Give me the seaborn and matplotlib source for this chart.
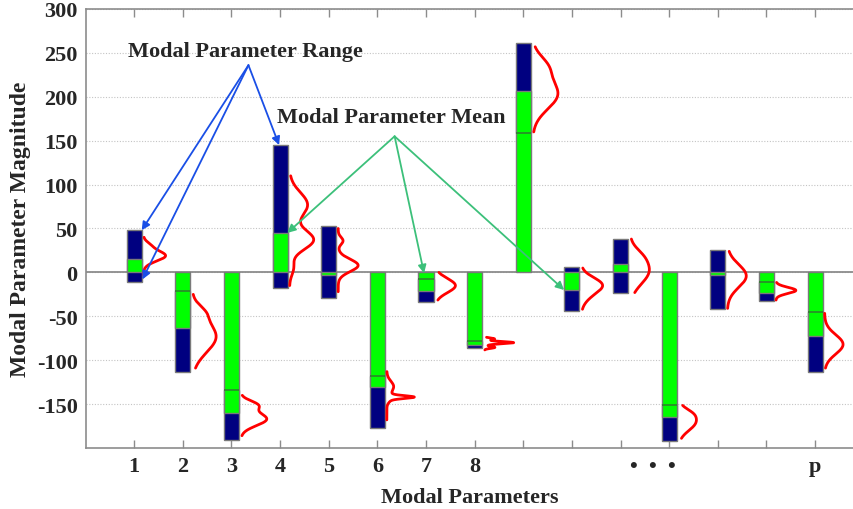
import numpy as np
import pandas as pd
import matplotlib
matplotlib.use("Agg")
import matplotlib.pyplot as plt
import seaborn as sns

# ---- data -------------------------------------------------------------
params = list(range(1, 16))
tick_labels = ["1", "2", "3", "4", "5", "6", "7", "8", "", "", "", "", "", "", "p"]

range_low = [-11, -114, -191, -18, -29, -177, -34, -86, 159, -44, -24, -192, -42, -33, -113]
range_high = [48, -21, -134, 145, 53, -118, -8, -78, 261, 6, 38, -151, 26, -11, -45]
param_mean = [15, -63, -160, 45, -3, -130, -21, -83, 207, -20, 10, -165, -3, -23, -73]

# distribution of each parameter: vertical span and gaussian components
# (centre, spread, peak width in x units)
dist_span = [(-3, 40), (-109, -25), (-186, -140), (-15, 110), (-22, 50),
             (-168, -113), (-31.5, 0), (-88.3, -73.9), (160, 257), (-42, 5),
             (-23, 38), (-189, -151.5), (-41, 24), (-31.5, -11.4), (-109, -46.6)]
dist_parts = [
    [(19, 6, 0.45), (31, 4, 0.10)],
    [(-73, 18, 0.49), (-45, 8, 0.14)],
    [(-151, 5, 0.31), (-167, 7.5, 0.53)],
    [(77, 14, 0.37), (37, 11, 0.49), (5, 8, 0.08)],
    [(8, 7, 0.41), (36, 4, 0.10)],
    [(-142, 1.5, 0.45), (-130, 6, 0.14), (-143, 4, 0.10)],
    [(-15, 8, 0.41)],
    [(-80, 1.2, 0.55), (-75.7, 1, 0.19), (-85.5, 1, 0.19), (-81, 4, 0.06)],
    [(203, 17, 0.51), (235, 12, 0.25)],
    [(-13, 8, 0.35), (-24, 9, 0.16)],
    [(2, 15, 0.39), (20, 8, 0.08)],
    [(-170, 10, 0.35), (-160, 5, 0.08)],
    [(-4, 13, 0.39)],
    [(-20.5, 3.5, 0.41)],
    [(-82, 11, 0.38)],
]

range_label = "Modal Parameter Range"
mean_label = "Modal Parameter Mean"

# ---- style ------------------------------------------------------------
sns.set_style("white")
plt.rcParams["font.family"] = ["Liberation Serif", "DejaVu Serif"]
plt.rcParams["font.weight"] = "bold"
plt.rcParams["axes.unicode_minus"] = False

NAVY = "#000080"
GREEN = "#00FF00"
EDGE = "#7a7a7a"
AXIS_GRAY = "#8c8c8c"
BAR_W = 0.31

fig = plt.figure(figsize=(8.54, 5.10), dpi=100)
ax = fig.add_axes([86 / 854, 1 - 449 / 510, 1 - 86 / 854, (449 - 10) / 510])

# range boxes
lo = np.array(range_low)
hi = np.array(range_high)
ax.bar(params, hi - lo, bottom=lo, width=BAR_W, color=NAVY,
       edgecolor=EDGE, linewidth=1, zorder=2)

# mean bars from zero
df = pd.DataFrame({"param": params, "mean": param_mean})
sns.barplot(data=df, x="param", y="mean", native_scale=True, width=BAR_W,
            color=GREEN, saturation=1, edgecolor=EDGE, linewidth=1,
            errorbar=None, ax=ax, zorder=3)

# range edges that fall inside the mean bar
for x, m, a, b in zip(params, param_mean, range_low, range_high):
    top, bot = max(0, m), min(0, m)
    for edge in (a, b):
        if bot < edge < top:
            ax.hlines(edge, x - BAR_W / 2, x + BAR_W / 2, color="#2f7a2f",
                      lw=1.1, zorder=3.5)

# distribution curves beside each bar
for x, (s0, s1), parts in zip(params, dist_span, dist_parts):
    yy = np.linspace(s0, s1, 300)
    dens = np.zeros_like(yy)
    for c, s, h in parts:
        dens += h * np.exp(-0.5 * ((yy - c) / s) ** 2)
    ax.plot(x + BAR_W / 2 + 0.04 + dens, yy, color="red", lw=2.0,
            solid_capstyle="round", zorder=4)

# zero line and grid
ax.axhline(0, color=AXIS_GRAY, lw=1.3, zorder=1.5)
ax.set_yticks(np.arange(-150, 301, 50))
ax.yaxis.grid(True, color="#c4c4c4", lw=0.8, ls=(0, (1, 1.5)))
ax.set_axisbelow(True)

ax.set_xlim(0.01, 15.8)
ax.set_ylim(-200, 300)
ax.set_xticks(params)
ax.set_xticklabels(tick_labels)
ax.text(11.66, -221, "\u2022  \u2022  \u2022", ha="center", va="center",
        fontsize=16, fontweight="bold", transform=ax.transData, clip_on=False)

ax.tick_params(axis="x", direction="in", length=6, width=1, color=AXIS_GRAY,
               top=True, bottom=True, labelsize=16, pad=6)
ax.tick_params(axis="y", direction="out", length=5, width=1, color=AXIS_GRAY,
               labelsize=16, pad=1)
for lab in ax.get_xticklabels() + ax.get_yticklabels():
    lab.set_fontweight("bold")

for side in ("left", "bottom", "top"):
    ax.spines[side].set_color(AXIS_GRAY)
    ax.spines[side].set_linewidth(1.2)
ax.spines["right"].set_visible(False)

ax.set_xlabel("Modal Parameters", fontsize=16, fontweight="bold", labelpad=8)
ax.set_ylabel("Modal Parameter Magnitude", fontsize=17, fontweight="bold",
              labelpad=4)

# annotations
ax.text(3.28, 252, range_label, ha="center", va="center", fontsize=16,
        fontweight="bold")
ax.text(6.29, 177, mean_label, ha="center", va="center", fontsize=16,
        fontweight="bold")

range_apex = (3.35, 236)
for head in [(1.155, 48), (1.17, -8), (3.98, 145)]:
    ax.annotate("", xy=head, xytext=range_apex,
                arrowprops=dict(arrowstyle="-|>", color="#1a4fe6", lw=1.3,
                                mutation_scale=12, shrinkA=0, shrinkB=0),
                zorder=5)

mean_apex = (6.355, 155)
for head in [(4.15, 45), (6.96, -1), (9.84, -20)]:
    ax.annotate("", xy=head, xytext=mean_apex,
                arrowprops=dict(arrowstyle="-|>", color="#3cc07a", lw=1.3,
                                mutation_scale=12, shrinkA=0, shrinkB=0),
                zorder=5)

fig.savefig("out.png", dpi=100)
